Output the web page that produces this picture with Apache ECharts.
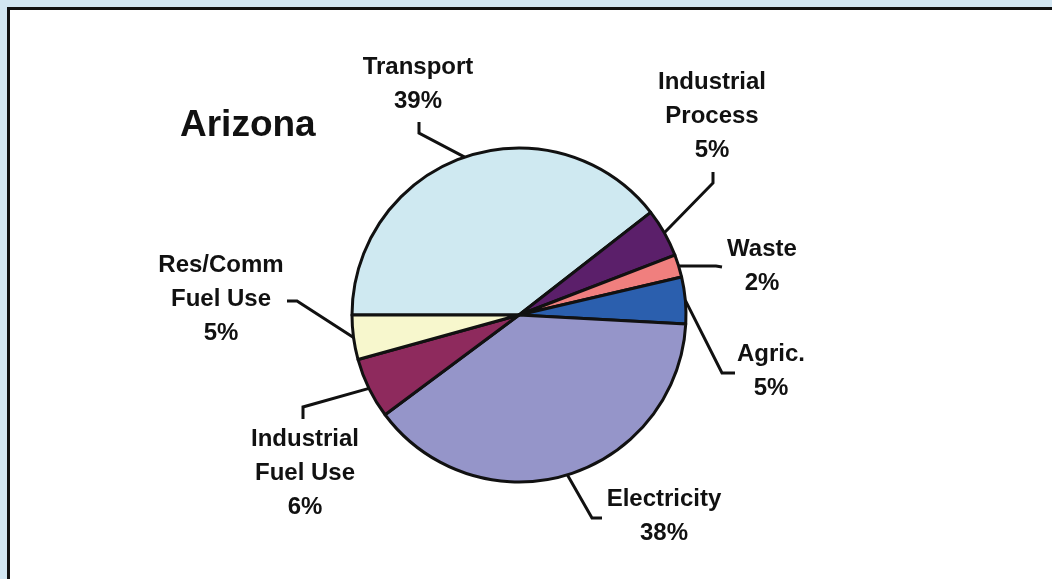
<!DOCTYPE html>
<html>
<head>
<meta charset="utf-8">
<script src="https://cdn.jsdelivr.net/npm/echarts@6/dist/echarts.min.js"></script>
<style>
html,body{margin:0;padding:0;background:#d2e6f2;}
#chart{width:1052px;height:579px;}
</style>
</head>
<body>
<div id="chart"></div>
<script>
// ---- data ----
const categories = ['Transport', 'Industrial\nProcess', 'Waste', 'Agric.', 'Electricity', 'Industrial\nFuel Use', 'Res/Comm\nFuel Use'];
const shares = [39.5, 4.7, 2.2, 4.5, 39.0, 5.9, 4.3];
const percentLabels = ['39%', '5%', '2%', '5%', '38%', '6%', '5%'];
const titleText = 'Arizona';

// ---- style / layout ----
const colors = ['#cfe9f1', '#5b1f6a', '#f07f7e', '#2b5fae', '#9595c9', '#8e2a5d', '#f7f7cd'];
// label centre positions and leader-line bend points (layout only)
const labelPos = [
  {x: 418, y: 84,  bend: [[419, 133], [419, 122]]},
  {x: 712, y: 116, bend: [[713, 183], [713, 172]]},
  {x: 762, y: 266, bend: [[716, 266], [722, 267]]},
  {x: 771, y: 371, bend: [[722, 373], [735, 373]]},
  {x: 664, y: 516, bend: [[592, 518], [602, 518]]},
  {x: 305, y: 473, bend: [[303, 407], [303, 419]]},
  {x: 221, y: 299, bend: [[297, 301], [287, 301]]}
];

const chart = echarts.init(document.getElementById('chart'), null, {renderer: 'canvas'});
chart.setOption({
  backgroundColor: '#d2e6f2',
  animation: false,
  graphic: [{
    type: 'rect',
    z: -10,
    shape: {x: 8.5, y: 8.5, width: 1100, height: 620},
    style: {fill: '#ffffff', stroke: '#111111', lineWidth: 3}
  }],
  title: {
    text: titleText,
    left: 180,
    top: 108,
    padding: 0,
    textStyle: {fontFamily: 'Liberation Sans, Arial, sans-serif', fontWeight: 'bold', fontSize: 37, lineHeight: 36, color: '#111'}
  },
  series: [{
    type: 'pie',
    center: [519, 315],
    radius: 167,
    startAngle: 180,
    clockwise: true,
    avoidLabelOverlap: false,
    data: categories.map((c, i) => ({name: c, value: shares[i], itemStyle: {color: colors[i]}})),
    itemStyle: {borderColor: '#111', borderWidth: 3},
    emphasis: {disabled: true},
    label: {
      show: true,
      position: 'outside',
      formatter: p => p.name + '\n' + percentLabels[p.dataIndex],
      fontFamily: 'Liberation Sans, Arial, sans-serif',
      fontWeight: 'bold',
      fontSize: 24,
      lineHeight: 34,
      color: '#111',
      align: 'center'
    },
    labelLine: {show: true, length: 20, length2: 10, smooth: false, lineStyle: {color: '#111', width: 3}},
    labelLayout: function (params) {
      const lp = labelPos[params.dataIndex];
      const start = params.labelLinePoints ? params.labelLinePoints[0] : lp.bend[0];
      return {
        x: lp.x,
        y: lp.y,
        align: 'center',
        verticalAlign: 'middle',
        labelLinePoints: [start, lp.bend[0], lp.bend[1]]
      };
    }
  }]
});
</script>
</body>
</html>
